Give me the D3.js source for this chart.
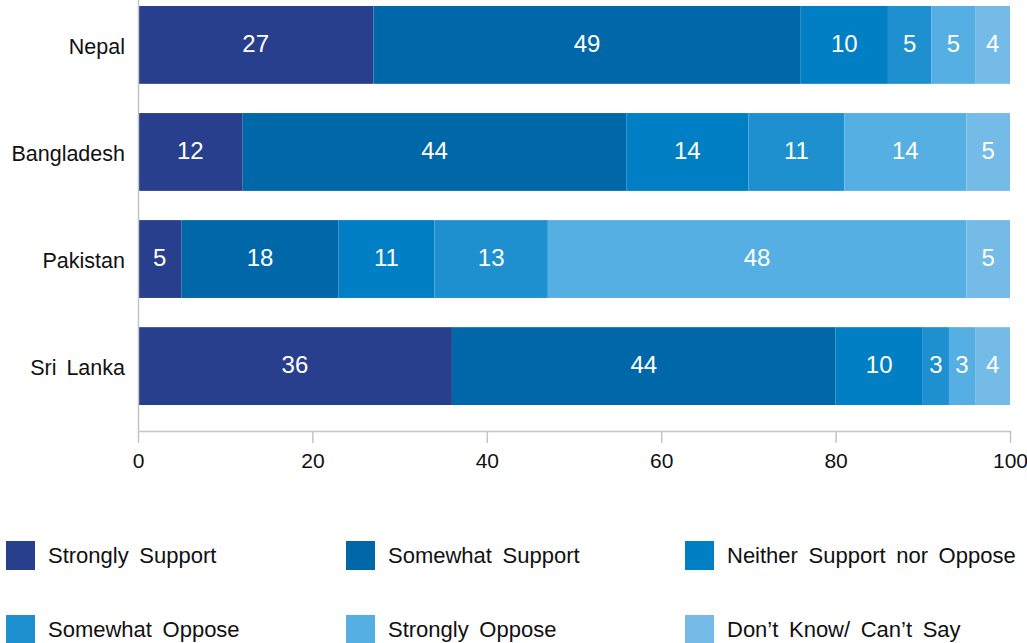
<!DOCTYPE html>
<html>
<head>
<meta charset="utf-8">
<script src="https://cdn.jsdelivr.net/npm/d3@7"></script>
<style>
  html, body { margin: 0; padding: 0; background: #fff; }
  svg { display: block; font-family: "Liberation Sans", Arial, Helvetica, sans-serif; }
</style>
</head>
<body>
<svg id="chart" width="1027" height="643"></svg>
<script>
// Countries shown top to bottom
const countries = ["Nepal", "Bangladesh", "Pakistan", "Sri Lanka"];

// Response categories, stacked left to right
const responses = ["Strongly Support", "Somewhat Support", "Neither Support nor Oppose",
                   "Somewhat Oppose", "Strongly Oppose", "Don\u2019t Know/ Can\u2019t Say"];

// Percentages per country, in response order
const nepal      = [27, 49, 10, 5, 5, 4];
const bangladesh = [12, 44, 14, 11, 14, 5];
const pakistan   = [5, 18, 11, 13, 48, 5];
const sriLanka   = [36, 44, 10, 3, 3, 4];

const xTicks = [0, 20, 40, 60, 80, 100];

const palette = ["#273f8d", "#0067a8", "#007fc4", "#1e90d0", "#56afe2", "#74bce7"];

const seriesByCountry = [nepal, bangladesh, pakistan, sriLanka];
const rows = countries.map((c, i) => {
  const row = { country: c };
  responses.forEach((r, j) => { row[r] = seriesByCountry[i][j]; });
  return row;
});

const svg = d3.select("#chart");
const left = 138, right = 1010, axisY = 431;

const x = d3.scaleLinear().domain([0, 100]).range([left, right]);
const y = d3.scaleBand().domain(countries).range([0, 411])
  .paddingInner(0.273).paddingOuter(0.056);
const color = d3.scaleOrdinal().domain(responses).range(palette);

const stacked = d3.stack().keys(responses)(rows);

// Stacked segments
const layers = svg.append("g").selectAll("g")
  .data(stacked).join("g")
  .attr("fill", d => color(d.key));

layers.selectAll("rect")
  .data(d => d.map(v => ({ key: d.key, v })))
  .join("rect")
  .attr("x", d => x(d.v[0]))
  .attr("y", d => y(d.v.data.country))
  .attr("width", d => x(d.v[1]) - x(d.v[0]))
  .attr("height", y.bandwidth());

// Value labels inside segments
layers.selectAll("text")
  .data(d => d.map(v => ({ key: d.key, v })))
  .join("text")
  .attr("x", d => (x(d.v[0]) + x(d.v[1])) / 2)
  .attr("y", d => y(d.v.data.country) + y.bandwidth() / 2)
  .attr("dy", "0.30em")
  .attr("text-anchor", "middle")
  .attr("fill", "#fff")
  .attr("font-size", 24)
  .text(d => d.v[1] - d.v[0]);

// Y axis: vertical rule with country names
svg.append("line")
  .attr("x1", left + 0.5).attr("x2", left + 0.5)
  .attr("y1", 0).attr("y2", axisY)
  .attr("stroke", "#c4c4c4").attr("stroke-width", 1.5);

svg.append("g").selectAll("text")
  .data(countries).join("text")
  .attr("x", 125)
  .attr("y", d => y(d) + y.bandwidth() / 2)
  .attr("dy", "0.40em")
  .attr("text-anchor", "end")
  .attr("font-size", 21.5)
  .attr("word-spacing", 4)
  .attr("fill", "#111")
  .text(d => d);

// X axis
const xAxis = svg.append("g")
  .attr("transform", `translate(0,${axisY})`)
  .call(d3.axisBottom(x).tickValues(xTicks).tickSize(12).tickPadding(10).tickSizeOuter(0));
xAxis.select(".domain").attr("stroke", "#c4c4c4").attr("stroke-width", 1.5);
xAxis.selectAll(".tick line").attr("stroke", "#c4c4c4").attr("stroke-width", 1.5);
xAxis.selectAll(".tick text")
  .attr("font-size", 21)
  .attr("fill", "#111")
  .attr("font-family", "Liberation Sans, Arial, sans-serif");

// Legend: three columns, two rows
const legendCols = [6, 346, 685];
const legendRows = [541, 615];
const legend = svg.append("g").selectAll("g")
  .data(responses).join("g")
  .attr("transform", (d, i) => `translate(${legendCols[i % 3]},${legendRows[Math.floor(i / 3)]})`);

legend.append("rect")
  .attr("width", 29).attr("height", 29)
  .attr("fill", d => color(d));

legend.append("text")
  .attr("x", 42).attr("y", 14.5)
  .attr("dy", "0.33em")
  .attr("font-size", 22)
  .attr("word-spacing", 4.5)
  .attr("fill", "#111")
  .text(d => d);
</script>
</body>
</html>
